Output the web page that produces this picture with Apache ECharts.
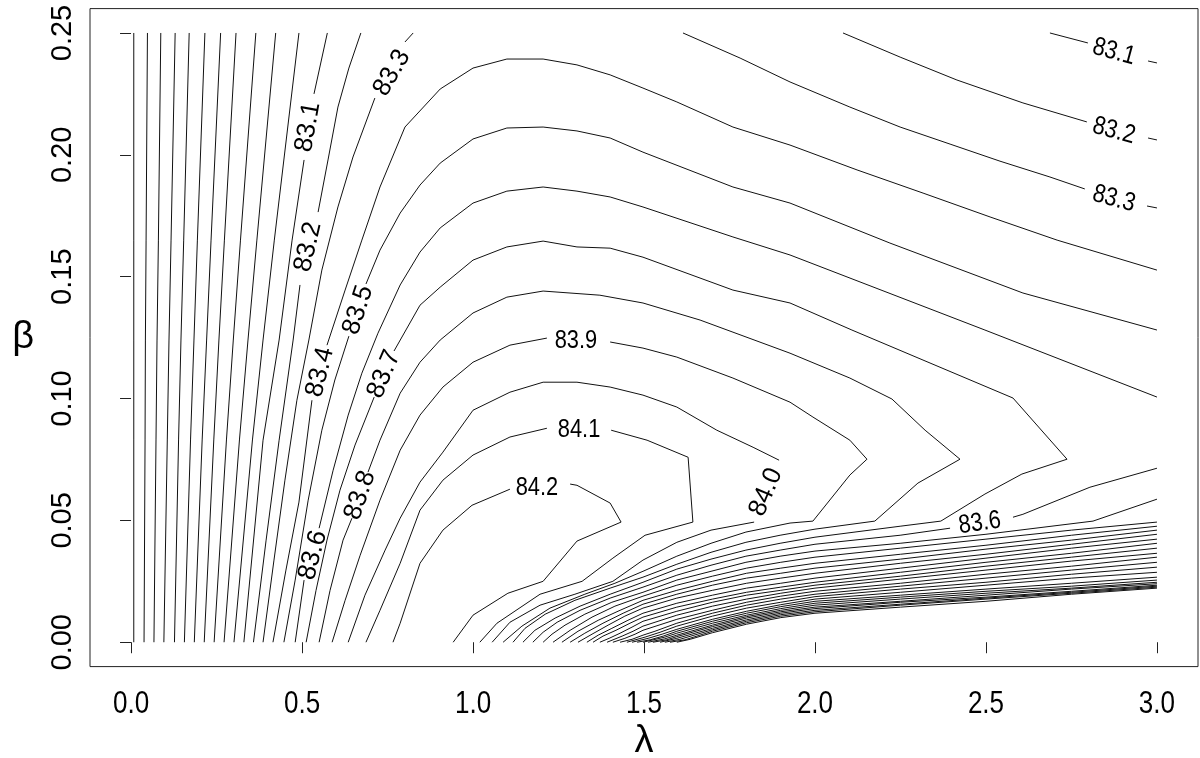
<!DOCTYPE html>
<html><head><meta charset="utf-8">
<script src="https://cdn.jsdelivr.net/npm/echarts@6/dist/echarts.min.js"></script>
<style>html,body{margin:0;padding:0;background:#fff}#c{width:1200px;height:758px}</style>
</head><body><div id="c"></div>
<script>
// ---------- tick labels ----------
const xTicks = [0, 0.5, 1.0, 1.5, 2.0, 2.5, 3.0];
const yTicks = [0, 0.05, 0.10, 0.15, 0.20, 0.25];

// ---------- left family of near-vertical contours (levels 82.0 .. 83.0) ----------
const leftRows = [0, 0.083, 0.124, 0.165, 0.25];           // beta rows
const leftLevels = [82.0, 82.1, 82.2, 82.3, 82.4, 82.5, 82.6, 82.7, 82.8, 82.9, 83.0];
const leftLambda = [
  [0.008, 0.008, 0.008, 0.008, 0.008],
  [0.038, 0.041, 0.042, 0.044, 0.048],
  [0.067, 0.073, 0.076, 0.080, 0.087],
  [0.096, 0.106, 0.111, 0.117, 0.129],
  [0.127, 0.139, 0.146, 0.154, 0.170],
  [0.156, 0.174, 0.184, 0.194, 0.216],
  [0.185, 0.208, 0.221, 0.234, 0.262],
  [0.214, 0.242, 0.257, 0.273, 0.307],
  [0.243, 0.279, 0.299, 0.320, 0.365],
  [0.272, 0.317, 0.342, 0.368, 0.423],
  [0.301, 0.355, 0.386, 0.419, 0.491]
];

// ---------- individual contour pieces [lambda, beta] (gaps = label positions) ----------
const c83_1a = [[0.330,0],[0.386,0.0829],[0.433,0.124],[0.471,0.165],[0.506,0.1979]];
const c83_1b = [[0.535,0.225],[0.574,0.25]];
const c83_1c = [[2.687,0.25],[2.798,0.2459]];
const c83_1d = [[2.974,0.2385],[3.0,0.2377]];

const c83_2a = [[0.358,0],[0.395,0.0419],[0.433,0.0829],[0.474,0.124],[0.494,0.1466]];
const c83_2b = [[0.547,0.1765],[0.576,0.1979],[0.605,0.2196],[0.637,0.2356],[0.672,0.25]];
const c83_2c = [[2.082,0.25],[2.249,0.2401],[2.415,0.2307],[2.608,0.2213],[2.795,0.2135]];
const c83_2d = [[2.974,0.2069],[3.0,0.2061]];

const c83_3a = [[0.386,0],[0.418,0.0337],[0.450,0.0665],[0.485,0.0993],[0.520,0.124],[0.558,0.1527],[0.605,0.1786],[0.649,0.1991],[0.713,0.2233]];
const c83_3b = [[0.801,0.2463],[0.825,0.25]];
const c83_3c = [[1.614,0.25],[1.781,0.2397],[1.927,0.2299],[2.102,0.2196],[2.249,0.2114],[2.395,0.2044],[2.541,0.1974],[2.687,0.1909],[2.789,0.186]];
const c83_3d = [[2.971,0.179],[3.0,0.1782]];

const c83_4a = [[0.415,0],[0.453,0.0296],[0.491,0.0575],[0.529,0.0993]];
const c83_4b = [[0.573,0.1219],[0.626,0.1445],[0.675,0.165],[0.728,0.1868],[0.801,0.2114],[0.904,0.227],[1.0,0.2356],[1.099,0.2393],[1.205,0.2393],[1.304,0.2369],[1.401,0.2328],[1.497,0.2274],[1.596,0.2217],[1.76,0.2114],[1.927,0.204],[2.123,0.1938],[2.316,0.1843],[2.512,0.1745],[2.708,0.165],[3.0,0.1527]];

const c83_5a = [[0.447,0],[0.480,0.0255],[0.518,0.0583],[0.558,0.087],[0.596,0.1076],[0.637,0.1256]];
const c83_5b = [[0.687,0.147],[0.728,0.1609],[0.787,0.1761],[0.845,0.1876],[0.904,0.1966],[1.0,0.2065],[1.099,0.211],[1.205,0.2114],[1.304,0.2098],[1.401,0.2069],[1.497,0.2011],[1.76,0.1868],[1.927,0.1802],[2.219,0.1638],[2.608,0.1433],[3.0,0.1281]];
const c83_5c = [[3.0,0.0587],[2.813,0.0497],[2.5,0.0443],[2.249,0.0406],[2.0,0.0374],[1.898,0.0353],[1.798,0.0328],[1.696,0.0291],[1.596,0.0255],[1.497,0.0205],[1.406,0.0164],[1.327,0.0115],[1.269,0.007],[1.231,0.0033],[1.205,0]];

const c83_6a = [[0.480,0],[0.506,0.0255]];
const c83_6b = [[0.550,0.0468],[0.591,0.0706],[0.635,0.0932],[0.675,0.1104],[0.722,0.1268],[0.787,0.1466],[0.845,0.1601],[0.904,0.17],[1.0,0.1802],[1.099,0.1851],[1.205,0.1868],[1.304,0.1851],[1.401,0.1827],[1.497,0.1786],[1.76,0.1663],[1.927,0.1589],[2.497,0.1281],[3.0,0.1006]];
const c83_6c = [[3.0,0.0714],[2.804,0.0636],[2.608,0.0525],[2.579,0.0513]];
const c83_6d = [[2.395,0.0468],[2.249,0.0439],[2.0,0.0402],[1.898,0.0378],[1.798,0.0353],[1.696,0.0316],[1.596,0.0275],[1.497,0.0226],[1.401,0.0181],[1.313,0.0131],[1.246,0.0082],[1.205,0.0041],[1.175,0]];

const c83_7a = [[0.512,0],[0.541,0.0213],[0.573,0.0419],[0.611,0.0624],[0.655,0.0809],[0.711,0.1006]];
const c83_7b = [[0.769,0.1195],[0.845,0.1383],[0.904,0.1457],[1.0,0.1568],[1.099,0.1622],[1.205,0.1646],[1.304,0.1622],[1.401,0.1617],[1.497,0.158],[1.76,0.1445],[1.927,0.1392],[2.108,0.1281],[2.579,0.1002],[2.737,0.0751],[2.605,0.069],[2.497,0.0608],[2.368,0.0497],[2.249,0.0476],[2.0,0.0431],[1.898,0.0406],[1.798,0.0378],[1.696,0.0341],[1.596,0.03],[1.497,0.0246],[1.401,0.0197],[1.313,0.0148],[1.24,0.0099],[1.181,0.0049],[1.146,0]];

const c83_8a = [[0.550,0],[0.582,0.0213],[0.620,0.0419],[0.646,0.0509]];
const c83_8b = [[0.693,0.0698],[0.728,0.0829],[0.787,0.1022],[0.845,0.1149],[0.904,0.124],[1.0,0.1351],[1.099,0.1416],[1.205,0.1441],[1.371,0.1424],[1.497,0.1392],[1.664,0.1322],[1.927,0.1186],[2.102,0.1084],[2.225,0.0998],[2.322,0.087],[2.424,0.0751],[2.301,0.0653],[2.175,0.0497],[2.0,0.0464],[1.898,0.0439],[1.798,0.041],[1.696,0.0369],[1.596,0.032],[1.497,0.0267],[1.401,0.0222],[1.298,0.0172],[1.211,0.0115],[1.152,0.0057],[1.117,0]];

const c83_9a = [[0.588,0],[0.626,0.0172],[0.670,0.0357],[0.728,0.0583],[0.787,0.0788],[0.845,0.0932],[0.912,0.1047],[1.0,0.1149],[1.108,0.1219],[1.216,0.1248]];
const c83_9b = [[1.401,0.1232],[1.497,0.1207],[1.596,0.117],[1.76,0.1084],[1.927,0.0985],[1.994,0.0924],[2.102,0.0829],[2.152,0.0751],[2.102,0.0686],[1.994,0.0497],[1.927,0.0489],[1.798,0.0452],[1.696,0.0406],[1.596,0.0353],[1.497,0.0291],[1.415,0.0242],[1.327,0.0197],[1.225,0.014],[1.143,0.0066],[1.088,0]];

const c84_0a = [[0.635,0],[0.684,0.0193],[0.743,0.0378],[0.787,0.0509],[0.845,0.0657],[0.912,0.078],[1.0,0.0952],[1.108,0.1026],[1.205,0.1067],[1.304,0.1067],[1.401,0.1047],[1.497,0.1014],[1.596,0.0965],[1.713,0.087],[1.819,0.08],[1.895,0.0747]];
const c84_0b = [[1.822,0.0493],[1.696,0.046],[1.596,0.041],[1.497,0.0337],[1.409,0.025],[1.298,0.0197],[1.196,0.0152],[1.108,0.0082],[1.056,0]];

const c84_1a = [[0.687,0],[0.728,0.0131],[0.787,0.0324],[0.845,0.0542],[0.912,0.0665],[1.0,0.0768],[1.108,0.0842],[1.216,0.0878]];
const c84_1b = [[1.404,0.087],[1.509,0.0829],[1.629,0.0759],[1.643,0.0493],[1.503,0.0439],[1.409,0.0345],[1.319,0.025],[1.196,0.0197],[1.07,0.0078],[1.02,0]];

const c84_2a = [[0.766,0],[0.787,0.0078],[0.845,0.0324],[0.912,0.046],[0.997,0.0562],[1.108,0.0628]];
const c84_2b = [[1.284,0.0649],[1.304,0.0644],[1.401,0.0571],[1.433,0.0493],[1.304,0.0415],[1.205,0.025],[1.102,0.0201],[1.0,0.0111],[0.942,0]];

// ---------- lower fan (levels 83.4 .. 81.5): beta read at shared lambda columns + tail to beta=0 ----------
const fanCols = [3.0, 2.75, 2.5, 2.25, 2.0, 1.9, 1.8, 1.7];
const fanLevels = [83.4, 83.3, 83.2, 83.1, 83.0, 82.9, 82.8, 82.7, 82.6, 82.5, 82.4, 82.3, 82.2, 82.1, 82.0, 81.9, 81.8, 81.7, 81.6, 81.5];
const fanBeta = [
  [0.0493,0.046,0.0423,0.0386,0.0349,0.0328,0.0304,0.0271],
  [0.0476,0.0439,0.0398,0.0361,0.0324,0.0304,0.0283,0.025],
  [0.046,0.0419,0.0382,0.0341,0.0304,0.0283,0.0263,0.0234],
  [0.0443,0.0402,0.0361,0.0324,0.0283,0.0263,0.0242,0.0213],
  [0.0423,0.0386,0.0345,0.0304,0.0263,0.0242,0.0222,0.0193],
  [0.0406,0.0365,0.0328,0.0287,0.0246,0.0226,0.0205,0.0177],
  [0.0386,0.0349,0.0312,0.0271,0.0234,0.0213,0.0193,0.0164],
  [0.0365,0.0333,0.0296,0.0259,0.0222,0.0201,0.0177,0.0148],
  [0.0349,0.0312,0.0279,0.0242,0.0209,0.0189,0.0164,0.0131],
  [0.0328,0.0296,0.0263,0.023,0.0197,0.0177,0.0152,0.0119],
  [0.0308,0.0279,0.0246,0.0218,0.0187,0.0164,0.014,0.0107],
  [0.0287,0.0263,0.0234,0.0205,0.0177,0.0154,0.0127,0.0094],
  [0.0267,0.0242,0.0218,0.0193,0.0168,0.0146,0.0119,0.0086],
  [0.0255,0.023,0.0209,0.0185,0.016,0.0138,0.0111,0.0078],
  [0.0246,0.0222,0.0201,0.0177,0.0152,0.0131,0.0105,0.007],
  [0.024,0.0218,0.0193,0.0168,0.0144,0.0125,0.0099,0.0064],
  [0.0234,0.0209,0.0185,0.0164,0.0138,0.0119,0.0092,0.0057],
  [0.023,0.0205,0.0181,0.0156,0.0131,0.0113,0.0086,0.0051],
  [0.0226,0.0201,0.0177,0.0152,0.0125,0.0107,0.008,0.0045],
  [0.0222,0.0197,0.0168,0.0144,0.0119,0.0101,0.0074,0.0039]
];
const fanTail = [
  [[1.596,0.0234],[1.497,0.0189],[1.415,0.0148],[1.348,0.0103],[1.284,0.0049],[1.234,0]],
  [[1.596,0.0213],[1.497,0.0172],[1.43,0.0131],[1.366,0.009],[1.307,0.0045],[1.26,0]],
  [[1.596,0.0197],[1.497,0.0156],[1.439,0.0119],[1.38,0.0078],[1.327,0.0037],[1.284,0]],
  [[1.596,0.0181],[1.497,0.014],[1.444,0.0107],[1.395,0.007],[1.348,0.0033],[1.307,0]],
  [[1.596,0.016],[1.497,0.0119],[1.453,0.009],[1.406,0.0057],[1.366,0.0029],[1.333,0]],
  [[1.596,0.0144],[1.497,0.0103],[1.459,0.0078],[1.418,0.0049],[1.38,0.0025],[1.351,0]],
  [[1.596,0.0127],[1.497,0.0086],[1.465,0.0062],[1.43,0.0037],[1.398,0.0016],[1.371,0]],
  [[1.596,0.0111],[1.497,0.0066],[1.468,0.0045],[1.436,0.0025],[1.392,0]],
  [[1.596,0.0094],[1.497,0.0049],[1.474,0.0033],[1.444,0.0016],[1.409,0]],
  [[1.596,0.0078],[1.532,0.0045],[1.497,0.0029],[1.465,0.0012],[1.43,0]],
  [[1.596,0.0066],[1.547,0.0041],[1.503,0.0021],[1.45,0]],
  [[1.596,0.0053],[1.553,0.0033],[1.512,0.0016],[1.465,0]],
  [[1.596,0.0045],[1.556,0.0025],[1.518,0.001],[1.48,0]],
  [[1.596,0.0037],[1.561,0.0021],[1.497,0]],
  [[1.596,0.0029],[1.561,0.0014],[1.512,0]],
  [[1.596,0.0023],[1.567,0.001],[1.526,0]],
  [[1.596,0.0016],[1.547,0]],
  [[1.605,0.0012],[1.561,0]],
  [[1.62,0.001],[1.576,0]],
  [[1.635,0.0012],[1.596,0]]
];

// ---------- contour labels ----------
const labelText  = ['83.1','83.2','83.3','83.4','83.5','83.6','83.7','83.8','83.9','84.1','84.2','84.0','83.6','83.1','83.2','83.3'];
const labelLam   = [0.518, 0.518, 0.763, 0.553, 0.664, 0.532, 0.740, 0.670, 1.301, 1.310, 1.187, 1.857, 2.482, 2.874, 2.874, 2.874];
const labelBeta  = [0.2114,0.1622,0.2336,0.1108,0.1363,0.0357,0.1100,0.0603,0.1236,0.0870,0.0632,0.0616,0.0489,0.2422,0.2098,0.1819];
const labelAngle = [80, 77, 60, 76, 72, 75, 67, 71, 0, 0, 0, 67, 8, -15, -15, -15];

// ================= build =================
const REG = '"Liberation Sans", Arial, Helvetica, sans-serif';
const SQUEEZE = 0.84;   // reference text is horizontally condensed
const INK = '#111';

const pieces = [];
leftLambda.forEach(row => pieces.push(row.map((l, j) => [l, leftRows[j]])));
[c83_1a,c83_1b,c83_1c,c83_1d,c83_2a,c83_2b,c83_2c,c83_2d,c83_3a,c83_3b,c83_3c,c83_3d,
 c83_4a,c83_4b,c83_5a,c83_5b,c83_5c,c83_6a,c83_6b,c83_6c,c83_6d,c83_7a,c83_7b,
 c83_8a,c83_8b,c83_9a,c83_9b,c84_0a,c84_0b,c84_1a,c84_1b,c84_2a,c84_2b].forEach(p => pieces.push(p));
fanBeta.forEach((row, i) => {
  const pts = row.map((b, j) => [fanCols[j], b]);
  pieces.push(pts.concat(fanTail[i]));
});

const series = pieces.map(p => ({
  type: 'line', data: p, symbol: 'none', showSymbol: false, silent: true,
  animation: false, clip: true, lineStyle: { color: INK, width: 1 }, z: 2
}));

const option = {
  backgroundColor: '#fff',
  animation: false,
  grid: { left: 90, top: 8.6, width: 1108, height: 658, show: true, borderColor: '#222',
          borderWidth: 1, containLabel: false, outerBoundsMode: 'none' },
  xAxis: {
    type: 'value', min: -0.12, max: 3.12,
    splitLine: { show: false }, axisLine: { show: false },
    axisTick: { show: true, customValues: xTicks, length: 11, lineStyle: { color: '#222' } },
    axisLabel: { show: false, customValues: xTicks },
    name: 'λ', nameLocation: 'middle', nameGap: 56,
    nameTextStyle: { fontSize: 38, color: '#000', fontFamily: REG }
  },
  yAxis: {
    type: 'value', min: -0.01, max: 0.26,
    splitLine: { show: false }, axisLine: { show: false },
    axisTick: { show: true, customValues: yTicks, length: 11, lineStyle: { color: '#222' } },
    axisLabel: { customValues: yTicks, formatter: v => v.toFixed(2), fontSize: 29, color: '#000',
                 margin: 13, rotate: 90, fontFamily: REG },
    name: 'β', nameLocation: 'middle', nameGap: 56, nameRotate: 0,
    nameTextStyle: { fontSize: 38, color: '#000', fontFamily: REG }
  },
  series: series
};
const chart = echarts.init(document.getElementById('c'), null, { renderer: 'canvas' });
chart.setOption(option);

// text placed through the chart's own coordinate conversion
const g = [];
const yBottom = chart.convertToPixel({ gridIndex: 0 }, [0, -0.01])[1];
xTicks.forEach(v => {
  const px = chart.convertToPixel({ gridIndex: 0 }, [v, 0])[0];
  g.push({ type: 'text', x: px, y: yBottom + 38, scaleX: SQUEEZE, silent: true, z: 10,
           style: { text: v.toFixed(1), fontSize: 31, fontFamily: REG, fill: '#000',
                    align: 'center', verticalAlign: 'middle' } });
});
labelText.forEach((t, i) => {
  const p = chart.convertToPixel({ gridIndex: 0 }, [labelLam[i], labelBeta[i]]);
  const th = labelAngle[i] * Math.PI / 180;
  const s = Math.hypot(SQUEEZE * Math.cos(th), Math.sin(th));
  g.push({ type: 'text', x: p[0], y: p[1], rotation: th, scaleX: s, silent: true, z: 10,
           style: { text: t, fontSize: 26, fontFamily: REG, fill: '#000',
                    align: 'center', verticalAlign: 'middle' } });
});
chart.setOption({ graphic: g });
</script></body></html>
